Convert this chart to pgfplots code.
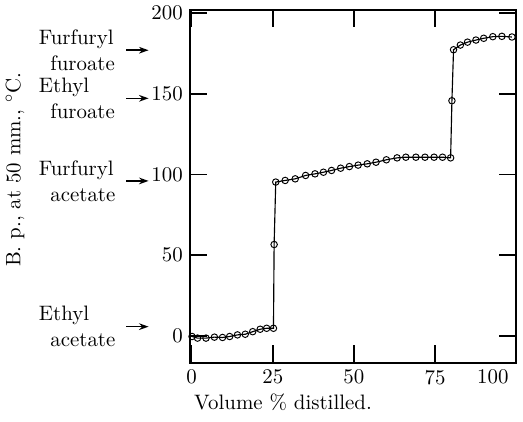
\documentclass[border=0pt,11pt]{standalone}
\usepackage{pgfplots}
\pgfplotsset{compat=1.18}
\usetikzlibrary{arrows.meta}

\begin{document}
\begin{tikzpicture}
\begin{axis}[
    scale only axis,
    width=171pt,
    height=185pt,
    xmin=-0.5, xmax=100,
    ymin=-16.6, ymax=202,
    xtick={0,25,50,75,100},
    xticklabels={0,25,50,75,\makebox[0pt][r]{100\hspace{4pt}}},
    ytick={0,50,100,150,200},
    tick align=inside,
    major tick length=9pt,
    axis line style={line width=1pt},
    every tick/.style={black, line width=0.8pt},
    clip=false,
    xlabel={Volume \% distilled.},
    ylabel={B. p., at 50 mm., $^\circ$C.},
    xlabel style={at={(axis description cs:0.285,-0.113)}, anchor=center},
    ylabel style={at={(axis description cs:-0.537,0.547)}, anchor=center},
]
\addplot[black, line width=0.6pt, mark=o, mark size=1.7pt,
         mark options={fill=white, line width=0.5pt}] coordinates {
 (0.1,-0.4) (1.8,-1.4) (4.4,-1.4) (7.0,-0.8) (9.5,-1.0) (11.7,-0.4)
 (14.1,0.6) (16.5,1.0) (18.8,2.6) (21.1,4.1) (23.1,4.7) (25.2,4.7)
 (25.4,56.6)
 (25.9,95.3) (28.8,96.3) (31.9,97.3) (35.1,99.4) (38.0,100.4) (40.6,101.4)
 (43.1,102.5) (45.9,103.9) (48.6,104.9) (51.3,105.8) (54.1,106.6) (56.8,107.6)
 (60.0,109.1) (63.3,110.3) (66.0,110.7) (69.1,110.7) (71.9,110.7) (74.7,110.7)
 (77.3,110.7) (79.8,110.3)
 (80.2,145.7)
 (80.7,177.3) (82.8,180.2) (85.0,182.0) (87.6,183.3) (90.0,184.4)
 (92.8,185.4) (95.6,185.6) (98.7,185.2)
};

% compound labels with arrows
\node[anchor=west, align=left, inner sep=0pt] at (axis cs:-47.2,177) {Furfuryl\\\hspace*{6pt}furoate};
\node[anchor=west, align=left, inner sep=0pt] at (axis cs:-47.2,147.2) {Ethyl\\\hspace*{6pt}furoate};
\node[anchor=west, align=left, inner sep=0pt] at (axis cs:-47.2,96) {Furfuryl\\\hspace*{6pt}acetate};
\node[anchor=west, align=left, inner sep=0pt] at (axis cs:-47.2,5.7) {Ethyl\\\hspace*{6pt}acetate};
\draw[-{Stealth[length=5pt,width=3.5pt]}, line width=0.8pt] (axis cs:-20.2,177) -- (axis cs:-13.3,177);
\draw[-{Stealth[length=5pt,width=3.5pt]}, line width=0.8pt] (axis cs:-20.2,147.2) -- (axis cs:-13.3,147.2);
\draw[-{Stealth[length=5pt,width=3.5pt]}, line width=0.8pt] (axis cs:-20.2,96) -- (axis cs:-13.3,96);
\draw[-{Stealth[length=5pt,width=3.5pt]}, line width=0.8pt] (axis cs:-20.2,5.7) -- (axis cs:-13.3,5.7);

\coordinate (bl) at (rel axis cs:-0.583,-0.167);
\coordinate (tr) at (rel axis cs:1.021,1.028);
\end{axis}
\pgfresetboundingbox
\path[use as bounding box] (bl) rectangle (tr);
\end{tikzpicture}
\end{document}
